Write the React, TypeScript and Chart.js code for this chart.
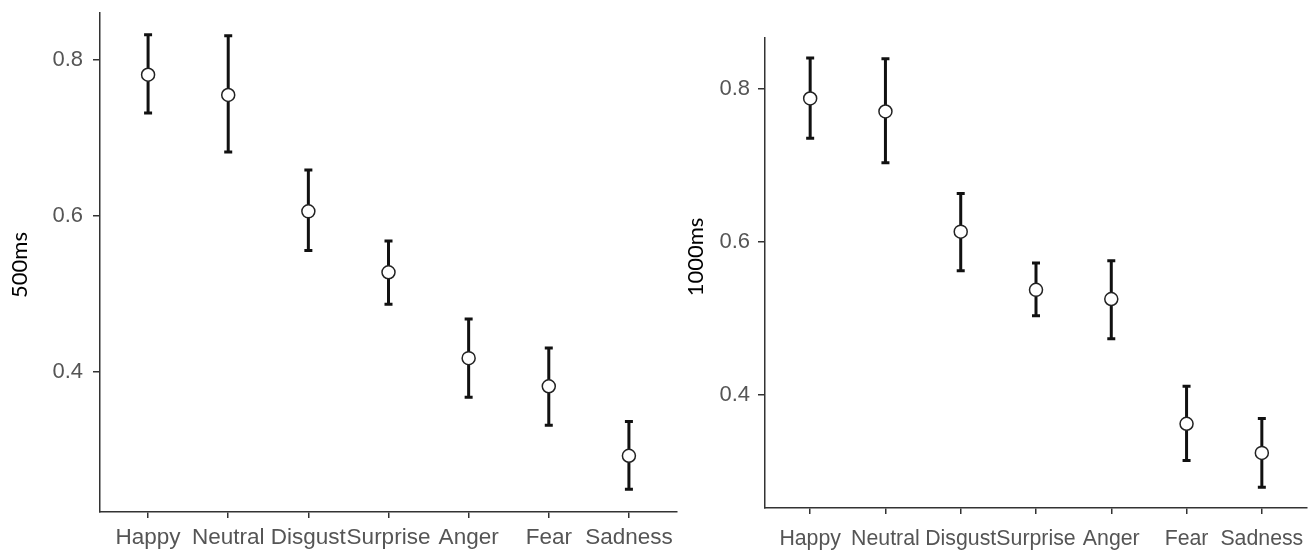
import React, { useEffect, useRef } from "react";
import { Chart, registerables } from "chart.js";

Chart.register(...registerables);

const categories = ["Happy", "Neutral", "Disgust", "Surprise", "Anger", "Fear", "Sadness"];

const mean500 = [0.781, 0.755, 0.606, 0.528, 0.418, 0.382, 0.293];
const upper500 = [0.832, 0.831, 0.659, 0.568, 0.468, 0.431, 0.337];
const lower500 = [0.732, 0.682, 0.556, 0.487, 0.368, 0.332, 0.25];

const mean1000 = [0.787, 0.770, 0.613, 0.537, 0.525, 0.362, 0.324];
const upper1000 = [0.840, 0.839, 0.663, 0.572, 0.575, 0.411, 0.369];
const lower1000 = [0.735, 0.703, 0.562, 0.503, 0.473, 0.314, 0.279];

const yTicks = [0.4, 0.6, 0.8];
const yRange500 = [0.221, 0.86];
const yRange1000 = [0.252, 0.866];
const xRange = [-0.6, 6.6];

type PanelProps = {
  title: string;
  mean: number[];
  upper: number[];
  lower: number[];
  yRange: number[];
  width: number;
  left: number;
  padTop: number;
  padRight: number;
  yAxisWidth: number;
  xAxisHeight: number;
  xLabelPad: number;
  yLabelPad: number;
  titleX: number;
  titleY: number;
  xFont: number;
};

function makeErrorBars(lower: number[], upper: number[]) {
  return {
    id: "errorBars",
    beforeDatasetsDraw(chart: any) {
      const { ctx, scales } = chart;
      const x = scales.x;
      const y = scales.y;
      ctx.save();
      ctx.strokeStyle = "#111";
      ctx.lineWidth = 3;
      ctx.lineCap = "butt";
      const cap = 4;
      lower.forEach((lo, i) => {
        const px = x.getPixelForValue(i);
        const y1 = y.getPixelForValue(upper[i]);
        const y2 = y.getPixelForValue(lo);
        ctx.beginPath();
        ctx.moveTo(px, y1);
        ctx.lineTo(px, y2);
        ctx.moveTo(px - cap, y1);
        ctx.lineTo(px + cap, y1);
        ctx.moveTo(px - cap, y2);
        ctx.lineTo(px + cap, y2);
        ctx.stroke();
      });
      ctx.restore();
    },
  };
}

function makeSideTitle(text: string, x: number, y: number) {
  return {
    id: "sideTitle",
    afterDraw(chart: any) {
      const ctx = chart.ctx;
      ctx.save();
      ctx.translate(x, y);
      ctx.rotate(-Math.PI / 2);
      ctx.fillStyle = "#000";
      ctx.font = "22px Lato";
      ctx.textAlign = "center";
      ctx.textBaseline = "middle";
      ctx.fillText(text, 0, 0);
      ctx.restore();
    },
  };
}

function Panel(p: PanelProps) {
  const ref = useRef<HTMLCanvasElement | null>(null);
  useEffect(() => {
    if (!ref.current) return;
    const chart = new Chart(ref.current, {
      type: "scatter",
      data: {
        datasets: [
          {
            data: p.mean.map((v, i) => ({ x: i, y: v })),
            showLine: false,
            pointRadius: 6.5,
            pointHoverRadius: 6.5,
            pointBackgroundColor: "#fff",
            pointBorderColor: "#222",
            pointBorderWidth: 1.5,
          },
        ],
      },
      options: {
        responsive: false,
        animation: false,
        devicePixelRatio: 1,
        layout: { padding: { left: 0, top: p.padTop, right: p.padRight, bottom: 0 } },
        plugins: { legend: { display: false }, tooltip: { enabled: false } },
        scales: {
          x: {
            type: "linear",
            min: xRange[0],
            max: xRange[1],
            afterBuildTicks: (s: any) => {
              s.ticks = categories.map((_, i) => ({ value: i }));
            },
            afterFit: (s: any) => {
              s.height = p.xAxisHeight;
              s.paddingLeft = 0;
              s.paddingRight = 0;
            },
            ticks: {
              autoSkip: false,
              maxRotation: 0,
              minRotation: 0,
              padding: p.xLabelPad,
              color: "#555",
              font: { family: "Liberation Sans", size: p.xFont },
              callback: (v: any) => categories[v],
            },
            grid: { drawOnChartArea: false, drawTicks: true, tickLength: 6, color: "#333", lineWidth: 1.5 },
            border: { display: true, color: "#333", width: 1.5 },
          },
          y: {
            type: "linear",
            min: p.yRange[0],
            max: p.yRange[1],
            afterBuildTicks: (s: any) => {
              s.ticks = yTicks.map((v) => ({ value: v }));
            },
            afterFit: (s: any) => {
              s.width = p.yAxisWidth;
              s.paddingTop = 0;
              s.paddingBottom = 0;
            },
            ticks: {
              padding: p.yLabelPad,
              color: "#555",
              font: { family: "Liberation Sans", size: 22 },
              callback: (v: any) => Number(v).toFixed(1),
            },
            grid: { drawOnChartArea: false, drawTicks: true, tickLength: 7, color: "#333", lineWidth: 1.5 },
            border: { display: true, color: "#333", width: 1.5 },
          },
        },
      } as any,
      plugins: [makeErrorBars(p.lower, p.upper), makeSideTitle(p.title, p.titleX, p.titleY)],
    });
    return () => chart.destroy();
  }, []);
  return (
    <div style={{ position: "absolute", left: p.left, top: 0, width: p.width, height: 551 }}>
      <canvas ref={ref} width={p.width} height={551} style={{ display: "block" }} />
    </div>
  );
}

export default function App() {
  return (
    <div style={{ position: "absolute", left: 0, top: 0, width: 1315, height: 551, background: "#fff" }}>
      <Panel
        title="500ms"
        mean={mean500}
        upper={upper500}
        lower={lower500}
        yRange={yRange500}
        width={685}
        left={0}
        padTop={13}
        padRight={6}
        yAxisWidth={100}
        xAxisHeight={39}
        xLabelPad={6}
        yLabelPad={10}
        titleX={20}
        titleY={265}
        xFont={22.5}
      />
      <Panel
        title="1000ms"
        mean={mean1000}
        upper={upper1000}
        lower={lower1000}
        yRange={yRange1000}
        width={630}
        left={685}
        padTop={38}
        padRight={5}
        yAxisWidth={80}
        xAxisHeight={43}
        xLabelPad={12}
        yLabelPad={8}
        titleX={11}
        titleY={257}
        xFont={21.3}
      />
    </div>
  );
}
